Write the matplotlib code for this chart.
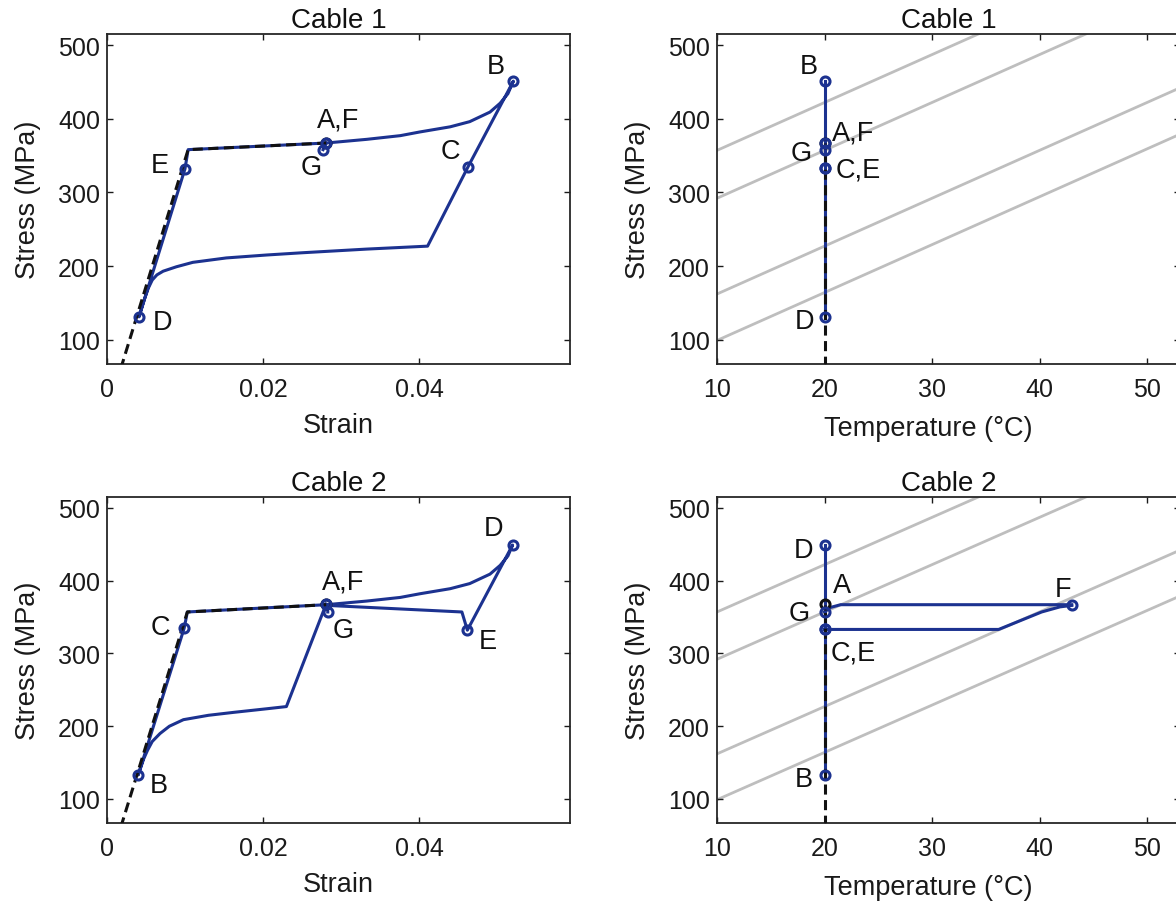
import numpy as np
import matplotlib
matplotlib.use('Agg')
import matplotlib.pyplot as plt

plt.rcParams['font.family'] = ['Liberation Sans', 'DejaVu Sans']

# renkler
BLUE = '#1c3290'
GRAY = '#bebebe'
DARK = '#1a1a1a'

# --- Cable 1, gerilme-şekil değiştirme ---
c1_strain = [0.0281, 0.0333, 0.0376, 0.0401, 0.0440, 0.0465, 0.0491, 0.0504, 0.0514, 0.0521,
             0.0463, 0.0411, 0.0333, 0.0250, 0.0205, 0.0153, 0.0110, 0.0089, 0.0072, 0.0064,
             0.0058, 0.0053, 0.0048, 0.0041, 0.0100, 0.0104, 0.0281, 0.0277]
c1_stress = [367, 372, 377, 382, 389, 396, 409, 421, 434, 451,
             335, 227, 223, 218, 215, 211, 205, 199, 193, 188,
             181, 170, 155, 131, 332, 358, 367, 358]
c1_pts_strain = [0.0281, 0.0521, 0.0463, 0.0041, 0.0100, 0.0281, 0.0277]
c1_pts_stress = [367, 451, 335, 131, 332, 367, 358]
c1_labels = ['A,F', 'B', 'C', 'D', 'E', None, 'G']
c1_label_off = [(12, 24), (-18, 15), (-18, 16), (24, -5), (-25, 4), None, (-12, -17)]

# --- Cable 2, gerilme-şekil değiştirme ---
c2_strain = [0.0281, 0.0230, 0.0205, 0.0162, 0.0130, 0.0098, 0.0080, 0.0068, 0.0058, 0.0052,
             0.0047, 0.0040, 0.0099, 0.0103, 0.0281, 0.0333, 0.0376, 0.0401, 0.0440, 0.0465,
             0.0491, 0.0504, 0.0514, 0.0520, 0.0462, 0.0455, 0.0283, 0.0283]
c2_stress = [368, 227, 224, 219, 215, 209, 200, 190, 179, 167,
             155, 133, 335, 357, 367, 372, 377, 382, 389, 396,
             409, 421, 434, 449, 332, 357, 366, 357]
c2_pts_strain = [0.0281, 0.0040, 0.0099, 0.0520, 0.0462, 0.0281, 0.0283]
c2_pts_stress = [368, 133, 335, 449, 332, 368, 357]
c2_labels = ['A,F', 'B', 'C', 'D', 'E', None, 'G']
c2_label_off = [(17, 22), (21, -10), (-24, 1), (-19, 17), (20, -11), None, (15, -18)]

# ilk yükleme (kesikli siyah)
init_strain = [0.0, 0.0104, 0.0281]
init_stress = [0, 358, 367]
init_strain2 = [0.0, 0.0103, 0.0281]
init_stress2 = [0, 357, 367]

# --- sıcaklık-gerilme ---
t1_temp = [20, 20]
t1_stress = [131, 451]
t1_pts_temp = [20, 20, 20, 20, 20, 20, 20]
t1_pts_stress = [367, 451, 333, 131, 333, 367, 358]
t1_labels = ['A,F', 'B', 'C,E', 'D', None, None, 'G']
t1_label_off = [(29, 11), (-16, 15), (34, -1), (-20, -4), None, None, (-23, -3)]

t2_temp_v = [20, 20]
t2_stress_v = [133, 449]
t2_temp_h1 = [20, 36.2, 40.2, 41.9, 43.0]
t2_stress_h1 = [333, 333, 357, 364, 366]
t2_temp_h2 = [43.0, 21.5, 20.5, 20.0]
t2_stress_h2 = [367, 367, 363, 357]
t2_pts_temp = [20, 20, 20, 20, 20, 43.0, 20]
t2_pts_stress = [368, 133, 333, 449, 333, 366, 357]
t2_labels = ['A', 'B', 'C,E', 'D', None, 'F', 'G']
t2_label_off = [(18, 19), (-21, -4), (29, -23), (-21, -5), None, (-9, 16), (-25, -1)]

# faz dönüşüm çizgileri (20 °C'deki gerilme, eğim MPa/°C)
cc_stress20 = [422, 357, 227, 164]
cc_slope = 6.5
cc_temp = np.array([5.0, 60.0])

init_temp = [20, 20]
init_temp_stress = [0, 367]

strain_ticks = [0, 0.02, 0.04]
strain_ticklabels = ['0', '0.02', '0.04']
temp_ticks = [10, 20, 30, 40, 50]
stress_ticks = [100, 200, 300, 400, 500]


def style(ax, title, xlabel, temp=False):
    ax.set_ylim(67, 515)
    ax.set_yticks(stress_ticks)
    if temp:
        ax.set_xlim(10, 10 + 463 / 10.75)
        ax.set_xticks(temp_ticks)
    else:
        ax.set_xlim(0, 463 / 7800)
        ax.set_xticks(strain_ticks)
        ax.set_xticklabels(strain_ticklabels)
    ax.tick_params(direction='in', length=4, width=1, top=True, right=True,
                   labelsize=18, colors=DARK)
    ax.tick_params(axis='x', pad=9.5)
    ax.tick_params(axis='y', pad=5)
    for s in ax.spines.values():
        s.set_linewidth(1.3)
        s.set_color('#262626')
    ax.set_title(title, fontsize=20, pad=5, color='#111111')
    ax.set_xlabel(xlabel, fontsize=19.5, labelpad=8, color=DARK)
    ax.set_ylabel('Stress (MPa)', fontsize=19.5, labelpad=12, color=DARK)
    if temp:
        # MATLAB etiketi biraz sola kaymış
        ax.xaxis.set_label_coords(0.456, -0.155)


def marks(ax, xs, ys, labels, offs):
    # A noktası siyah, diğerleri mavi
    ax.plot(xs[0], ys[0], 'o', ms=6.5, mew=2.2, mfc='none', mec='#111111', zorder=5)
    ax.plot(xs[1:], ys[1:], 'o', ms=6.5, mew=2.2, mfc='none', mec=BLUE, ls='none', zorder=6)
    for x, y, lab, off in zip(xs, ys, labels, offs):
        if lab is None:
            continue
        ax.annotate(lab, (x, y), xytext=off, textcoords='offset pixels',
                    ha='center', va='center', fontsize=19.5, color='#111111', zorder=7)


fig = plt.figure(figsize=(11.76, 9.04), dpi=100)
W, H = 1176, 904
ax1 = fig.add_axes([107 / W, 1 - 365 / H, 463 / W, 330 / H])
ax2 = fig.add_axes([717 / W, 1 - 365 / H, 463 / W, 330 / H])
ax3 = fig.add_axes([107 / W, 1 - 824 / H, 463 / W, 326 / H])
ax4 = fig.add_axes([717 / W, 1 - 824 / H, 463 / W, 326 / H])

# Cable 1 gerilme-şekil değiştirme
ax1.plot(c1_strain, c1_stress, color=BLUE, lw=2.2, zorder=2)
ax1.plot(init_strain, init_stress, color='#111111', lw=2.2, dashes=(3.3, 1.8), zorder=3)
marks(ax1, c1_pts_strain, c1_pts_stress, c1_labels, c1_label_off)
style(ax1, 'Cable 1', 'Strain')

# Cable 1 sıcaklık
for s20 in cc_stress20:
    ax2.plot(cc_temp, s20 + cc_slope * (cc_temp - 20), color=GRAY, lw=2, zorder=1)
ax2.plot(t1_temp, t1_stress, color=BLUE, lw=2.2, zorder=2)
ax2.plot(init_temp, init_temp_stress, color='#111111', lw=2.2, dashes=(3.3, 1.8), zorder=3)
marks(ax2, t1_pts_temp, t1_pts_stress, t1_labels, t1_label_off)
style(ax2, 'Cable 1', 'Temperature (°C)', temp=True)

# Cable 2 gerilme-şekil değiştirme
ax3.plot(c2_strain, c2_stress, color=BLUE, lw=2.2, zorder=2)
ax3.plot(init_strain2, init_stress2, color='#111111', lw=2.2, dashes=(3.3, 1.8), zorder=3)
marks(ax3, c2_pts_strain, c2_pts_stress, c2_labels, c2_label_off)
style(ax3, 'Cable 2', 'Strain')

# Cable 2 sıcaklık
for s20 in cc_stress20:
    ax4.plot(cc_temp, s20 + cc_slope * (cc_temp - 20), color=GRAY, lw=2, zorder=1)
ax4.plot(t2_temp_v, t2_stress_v, color=BLUE, lw=2.2, zorder=2)
ax4.plot(t2_temp_h1, t2_stress_h1, color=BLUE, lw=2.2, zorder=2)
ax4.plot(t2_temp_h2, t2_stress_h2, color=BLUE, lw=2.2, zorder=2)
ax4.plot(init_temp, init_temp_stress, color='#111111', lw=2.2, dashes=(3.3, 1.8), zorder=3)
marks(ax4, t2_pts_temp, t2_pts_stress, t2_labels, t2_label_off)
style(ax4, 'Cable 2', 'Temperature (°C)', temp=True)

fig.savefig('out.png', dpi=100)
